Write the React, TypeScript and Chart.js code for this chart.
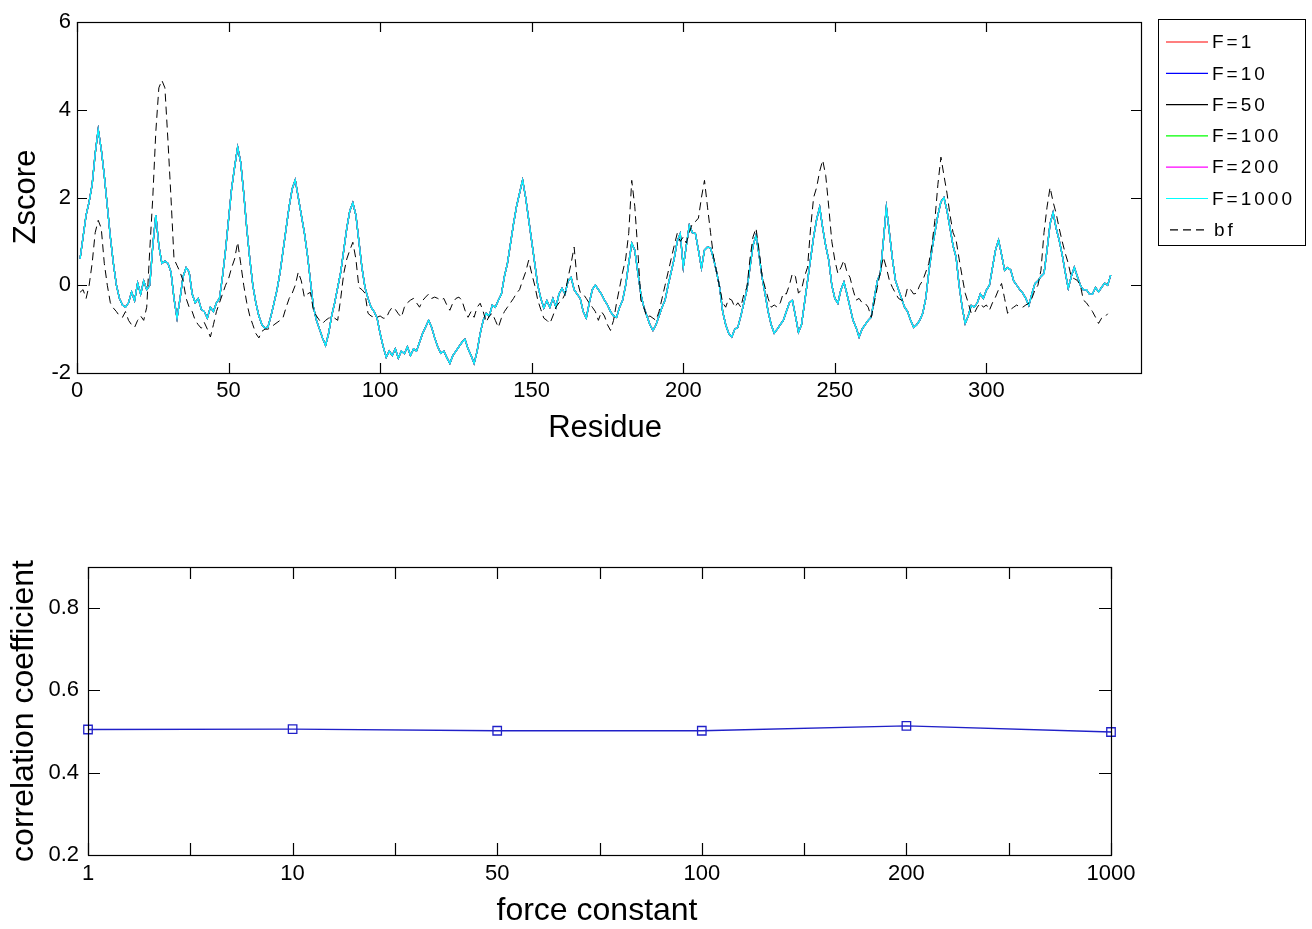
import React, { useEffect, useRef } from 'react';
import { Chart, registerables } from 'chart.js';
Chart.register(...registerables);

// Zscore profile (all force constants overlap almost exactly)
const zscore = [
  0.6, 1.1, 1.6, 1.9, 2.3, 3.0, 3.55, 3.1, 2.5, 1.8,
  1.1, 0.5, 0.0, -0.3, -0.45, -0.5, -0.4, -0.15, -0.35, 0.05,
  -0.2, 0.1, -0.1, 0.0, 0.9, 1.6, 0.9, 0.5, 0.55, 0.5,
  0.3, -0.3, -0.75, -0.3, 0.2, 0.4, 0.3, -0.2, -0.4, -0.3,
  -0.55, -0.6, -0.75, -0.5, -0.6, -0.4, -0.3, 0.2, 0.8, 1.5,
  2.2, 2.7, 3.15, 2.8, 2.1, 1.3, 0.6, 0.0, -0.4, -0.7,
  -0.9, -0.98, -0.95, -0.7, -0.4, -0.1, 0.3, 0.8, 1.3, 1.8,
  2.2, 2.4, 2.0, 1.6, 1.2, 0.7, 0.1, -0.5, -0.8, -1.0,
  -1.2, -1.37, -1.1, -0.7, -0.4, -0.05, 0.3, 0.8, 1.3, 1.7,
  1.88, 1.6, 1.0, 0.4, -0.05, -0.3, -0.5, -0.6, -0.75, -1.1,
  -1.4, -1.64, -1.5, -1.6, -1.45, -1.66, -1.5, -1.56, -1.4, -1.6,
  -1.45, -1.5, -1.3, -1.1, -0.95, -0.8, -0.96, -1.2, -1.4, -1.55,
  -1.5, -1.65, -1.78, -1.6, -1.5, -1.4, -1.3, -1.23, -1.45, -1.6,
  -1.78, -1.5, -1.1, -0.8, -0.64, -0.7, -0.45, -0.5, -0.34, -0.2,
  0.2, 0.5, 0.95, 1.4, 1.8, 2.1, 2.4, 2.0, 1.5, 1.0,
  0.5, 0.0, -0.3, -0.52, -0.35, -0.5, -0.3, -0.5, -0.2, -0.07,
  -0.2, 0.1, 0.18, -0.1, -0.2, -0.3, -0.6, -0.75, -0.4, -0.1,
  0.0, -0.1, -0.2, -0.34, -0.45, -0.6, -0.7, -0.73, -0.5, -0.34,
  0.0, 0.5, 0.96, 0.8, 0.3, -0.2, -0.5, -0.7, -0.9, -1.03,
  -0.9, -0.7, -0.5, -0.34, 0.0, 0.3, 0.6, 1.0, 1.18, 0.41,
  0.9, 1.37, 1.2, 1.18, 0.8, 0.39, 0.8, 0.87, 0.85, 0.6,
  0.3, -0.05, -0.6, -0.9, -1.1, -1.18, -1.0, -0.96, -0.7, -0.4,
  -0.1, 0.4, 0.9, 1.14, 0.7, 0.18, -0.2, -0.6, -0.9, -1.09,
  -1.0, -0.9, -0.8, -0.6, -0.4, -0.34, -0.7, -1.07, -0.9, -0.4,
  0.1, 0.6, 1.1, 1.5, 1.78, 1.3, 0.9, 0.57, 0.0, -0.3,
  -0.41, -0.1, 0.07, -0.2, -0.5, -0.8, -0.96, -1.18, -1.0, -0.9,
  -0.8, -0.73, -0.3, 0.1, 0.27, 1.0, 1.78, 1.2, 0.6, 0.11,
  -0.1, -0.3, -0.5, -0.6, -0.8, -0.96, -0.9, -0.8, -0.64, -0.3,
  0.3, 0.8, 1.2, 1.6, 1.9, 2.0, 1.7, 1.3, 0.9, 0.64,
  0.0, -0.5, -0.87, -0.7, -0.46, -0.5, -0.4, -0.2, -0.3, -0.11,
  0.0, 0.4, 0.8, 1.03, 0.7, 0.34, 0.4, 0.35, 0.1, 0.0,
  -0.1, -0.18, -0.3, -0.46, -0.2, 0.04, 0.1, 0.2, 0.27, 0.8,
  1.4, 1.66, 1.3, 1.03, 0.7, 0.3, -0.07, 0.2, 0.41, 0.2,
  0.0, -0.11, -0.1, -0.2, -0.2, -0.05, -0.15, -0.05, 0.05, 0.0, 0.23,
];

// B-factor profile (dashed)
const bfactor = [
  -0.16, -0.1, -0.3, 0.0, 0.5, 1.2, 1.48, 1.3, 0.5, 0.0,
  -0.4, -0.52, -0.6, -0.7, -0.73, -0.6, -0.8, -0.9, -0.96, -0.8,
  -0.7, -0.8, -0.5, 0.8, 2.0, 3.5, 4.5, 4.67, 4.5, 3.3,
  2.0, 0.6, 0.45, 0.3, 0.1, -0.3, -0.5, -0.6, -0.8, -0.9,
  -0.98, -0.85, -1.0, -1.18, -0.9, -0.6, -0.4, -0.2, 0.0, 0.15,
  0.4, 0.6, 0.98, 0.5, 0.0, -0.4, -0.7, -0.9, -1.1, -1.2,
  -1.05, -1.0, -1.0, -0.96, -0.9, -0.85, -0.8, -0.73, -0.5, -0.3,
  -0.18, 0.0, 0.3, 0.1, -0.27, -0.2, -0.16, -0.57, -0.7, -0.8,
  -0.87, -0.8, -0.75, -0.73, -0.75, -0.8, -0.3, 0.27, 0.6, 0.8,
  0.98, 0.6, -0.05, -0.1, -0.18, -0.64, -0.7, -0.73, -0.73, -0.7,
  -0.75, -0.75, -0.6, -0.5, -0.55, -0.65, -0.73, -0.5, -0.4, -0.34,
  -0.3, -0.4, -0.5, -0.35, -0.27, -0.2, -0.3, -0.27, -0.3, -0.34,
  -0.3, -0.45, -0.57, -0.4, -0.3, -0.27, -0.35, -0.57, -0.73, -0.6,
  -0.73, -0.5, -0.41, -0.6, -0.84, -0.7, -0.64, -0.8, -0.96, -0.75,
  -0.6, -0.5, -0.4, -0.3, -0.18, -0.1, 0.11, 0.3, 0.57, 0.27,
  0.0, -0.34, -0.55, -0.75, -0.8, -0.87, -0.7, -0.5, -0.4, -0.34,
  -0.2, 0.18, 0.5, 0.87, 0.11, -0.16, -0.2, -0.3, -0.41, -0.5,
  -0.6, -0.8, -0.6, -0.7, -0.9, -1.03, -0.8, -0.4, -0.05, 0.3,
  0.6, 1.18, 2.39, 1.8, 0.8, -0.34, -0.5, -0.73, -0.7, -0.75,
  -0.8, -0.6, -0.3, 0.0, 0.3, 0.6, 0.9, 1.18, 1.0, 1.1,
  0.96, 1.2, 1.41, 1.45, 1.53, 2.0, 2.39, 1.78, 1.2, 0.64,
  0.3, -0.05, -0.4, -0.5, -0.3, -0.34, -0.5, -0.4, -0.5, -0.2,
  -0.05, 0.6, 1.1, 1.3, 0.8, 0.2, -0.05, -0.3, -0.5, -0.45,
  -0.5, -0.4, -0.18, -0.2, 0.0, 0.27, 0.2, -0.18, -0.1, 0.2,
  0.41, 1.3, 2.0, 2.23, 2.6, 2.85, 2.5, 1.78, 1.0, 0.57,
  0.27, 0.4, 0.57, 0.3, 0.18, -0.1, -0.34, -0.3, -0.4, -0.41,
  -0.5, -0.73, -0.4, -0.05, 0.3, 0.64, 0.4, 0.11, -0.05, -0.18,
  -0.3, -0.34, -0.34, -0.05, -0.1, -0.2, -0.18, 0.0, 0.11, 0.3,
  0.5, 0.9, 1.48, 2.3, 2.92, 2.5, 2.1, 1.6, 1.2, 1.03,
  0.6, 0.2, -0.18, -0.4, -0.64, -0.64, -0.5, -0.41, -0.5, -0.45,
  -0.57, -0.4, -0.27, -0.1, 0.04, -0.3, -0.64, -0.55, -0.5, -0.45,
  -0.5, -0.5, -0.45, -0.41, -0.3, -0.11, 0.0, 0.34, 1.2, 1.78,
  2.23, 1.9, 1.64, 1.3, 1.0, 0.73, 0.5, 0.18, 0.15, 0.11,
  0.0, -0.34, -0.4, -0.5, -0.6, -0.73, -0.87, -0.75, -0.73, -0.65,
];

const seriesNames = ['F=1', 'F=10', 'F=50', 'F=100', 'F=200', 'F=1000'];
const seriesColors = ['#ff0000', '#0000ff', '#000000', '#00ff00', '#ff00ff', '#00ffff'];
const residueTicks = [0, 50, 100, 150, 200, 250, 300];
const zTicks = [-2, 0, 2, 4, 6];

const forceConstants = ['1', '10', '50', '100', '200', '1000'];
const correlation = [0.505, 0.506, 0.502, 0.502, 0.514, 0.499];
const corrTicks = [0.2, 0.4, 0.6, 0.8];

const FONT = '"Liberation Sans", Arial, sans-serif';

function TopChart() {
  const ref = useRef<HTMLCanvasElement>(null);
  useEffect(() => {
    const residues = zscore.map((_, i) => i + 1);
    const datasets: any[] = seriesNames.map((name, i) => ({
      label: name,
      data: zscore,
      borderColor: seriesColors[i],
      borderWidth: 1.3,
      pointRadius: 0,
      tension: 0,
      order: 6 - i,
    }));
    datasets.push({
      label: 'bf',
      data: bfactor,
      borderColor: '#000000',
      borderWidth: 1,
      borderDash: [8, 5],
      pointRadius: 0,
      tension: 0,
      order: 0,
    });
    const frame = {
      id: 'frameTop',
      afterDraw(chart: any) {
        const { ctx, chartArea: a, scales } = chart;
        const xs = scales.x, ys = scales.y;
        ctx.save();
        ctx.strokeStyle = '#000';
        ctx.lineWidth = 1.2;
        ctx.strokeRect(a.left + 0.5, a.top + 0.5, a.right - a.left, a.bottom - a.top);
        ctx.beginPath();
        const tl = 10;
        residueTicks.forEach((v) => {
          const px = Math.round(xs.getPixelForValue(v)) + 0.5;
          ctx.moveTo(px, a.bottom); ctx.lineTo(px, a.bottom - tl);
          ctx.moveTo(px, a.top); ctx.lineTo(px, a.top + tl);
        });
        zTicks.forEach((v) => {
          const py = Math.round(ys.getPixelForValue(v)) + 0.5;
          ctx.moveTo(a.left, py); ctx.lineTo(a.left + tl, py);
          ctx.moveTo(a.right, py); ctx.lineTo(a.right - tl, py);
        });
        ctx.stroke();
        ctx.fillStyle = '#000';
        ctx.font = `22px ${FONT}`;
        ctx.textBaseline = 'middle';
        ctx.textAlign = 'center';
        residueTicks.forEach((v) => ctx.fillText(String(v), xs.getPixelForValue(v), 391));
        ctx.textAlign = 'right';
        zTicks.forEach((v) => ctx.fillText(String(v), 71, ys.getPixelForValue(v)));
        ctx.font = `31px ${FONT}`;
        ctx.textAlign = 'center';
        ctx.fillText('Residue', 605, 428);
        ctx.save();
        ctx.translate(26, 197);
        ctx.rotate(-Math.PI / 2);
        ctx.fillText('Zscore', 0, 0);
        ctx.restore();
        // legend
        const lx = 1158, ly = 19, lw = 147, lh = 226;
        ctx.fillStyle = '#fff';
        ctx.fillRect(lx, ly, lw, lh);
        ctx.strokeStyle = '#000';
        ctx.lineWidth = 1;
        ctx.strokeRect(lx + 0.5, ly + 0.5, lw, lh);
        const labels = [...seriesNames, 'bf'];
        const colors = [...seriesColors, '#000'];
        ctx.font = `19px ${FONT}`;
        ctx.textAlign = 'left';
        (ctx as any).letterSpacing = '3px';
        labels.forEach((lab, i) => {
          const y = 42 + i * 31.3;
          ctx.beginPath();
          ctx.strokeStyle = colors[i];
          ctx.lineWidth = 1.2;
          if (lab === 'bf') {
            ctx.setLineDash([8, 5]);
            ctx.moveTo(1170, y); ctx.lineTo(1207, y);
          } else {
            ctx.setLineDash([]);
            ctx.moveTo(1166, y); ctx.lineTo(1208, y);
          }
          ctx.stroke();
          ctx.setLineDash([]);
          ctx.fillStyle = '#000';
          ctx.fillText(lab, lab === 'bf' ? 1214 : 1212, y + 1);
        });
        (ctx as any).letterSpacing = '0px';
        ctx.restore();
      },
    };
    const chart = new Chart(ref.current!, {
      type: 'line',
      data: { labels: residues, datasets },
      options: {
        animation: false,
        responsive: false,
        events: [],
        layout: { padding: { left: 77, right: 171, top: 22, bottom: 87 } },
        plugins: { legend: { display: false }, tooltip: { enabled: false } },
        scales: {
          x: { type: 'linear', min: 0, max: 351, display: false },
          y: { type: 'linear', min: -2, max: 6, display: false },
        },
      },
      plugins: [frame],
    });
    return () => chart.destroy();
  }, []);
  return <canvas ref={ref} width={1312} height={460} style={{ position: 'absolute', left: 0, top: 0 }} />;
}

function BottomChart() {
  const ref = useRef<HTMLCanvasElement>(null);
  useEffect(() => {
    const OFF = 460;
    const frame = {
      id: 'frameBottom',
      afterDraw(chart: any) {
        const { ctx, chartArea: a, scales } = chart;
        const xs = scales.x, ys = scales.y;
        ctx.save();
        ctx.strokeStyle = '#000';
        ctx.lineWidth = 1.2;
        ctx.strokeRect(a.left + 0.5, a.top + 0.5, a.right - a.left, a.bottom - a.top);
        ctx.beginPath();
        const tl = 12;
        for (let i = 0; i <= forceConstants.length - 1; i += 0.5) {
          const px = Math.round(xs.getPixelForValue(i)) + 0.5;
          ctx.moveTo(px, a.bottom); ctx.lineTo(px, a.bottom - tl);
          ctx.moveTo(px, a.top); ctx.lineTo(px, a.top + tl);
        }
        corrTicks.forEach((v) => {
          const py = Math.round(ys.getPixelForValue(v)) + 0.5;
          ctx.moveTo(a.left, py); ctx.lineTo(a.left + tl, py);
          ctx.moveTo(a.right, py); ctx.lineTo(a.right - tl, py);
        });
        ctx.stroke();
        ctx.fillStyle = '#000';
        ctx.font = `22px ${FONT}`;
        ctx.textBaseline = 'middle';
        ctx.textAlign = 'center';
        forceConstants.forEach((lab, i) => ctx.fillText(lab, xs.getPixelForValue(i), 874 - OFF));
        ctx.textAlign = 'right';
        corrTicks.forEach((v) => ctx.fillText(v.toFixed(1), 79, ys.getPixelForValue(v)));
        ctx.font = `32px ${FONT}`;
        ctx.textAlign = 'center';
        ctx.fillText('force constant', 597, 911 - OFF);
        ctx.save();
        ctx.translate(24, 711 - OFF);
        ctx.rotate(-Math.PI / 2);
        ctx.fillText('correlation coefficient', 0, 0);
        ctx.restore();
        ctx.restore();
      },
    };
    const chart = new Chart(ref.current!, {
      type: 'line',
      data: {
        labels: forceConstants,
        datasets: [{
          label: 'correlation',
          data: correlation,
          borderColor: '#2020c8',
          borderWidth: 1.3,
          pointStyle: 'rect',
          pointRadius: 6,
          pointBorderColor: '#2020c8',
          pointBackgroundColor: 'rgba(0,0,0,0)',
          pointBorderWidth: 1.3,
          tension: 0,
          clip: false as any,
        }],
      },
      options: {
        animation: false,
        responsive: false,
        events: [],
        layout: { padding: { left: 88, right: 201, top: 107, bottom: 74 } },
        plugins: { legend: { display: false }, tooltip: { enabled: false } },
        scales: {
          x: { type: 'category', offset: false, display: false },
          y: { type: 'linear', min: 0.2, max: 0.9, display: false },
        },
      },
      plugins: [frame],
    });
    return () => chart.destroy();
  }, []);
  return <canvas ref={ref} width={1312} height={469} style={{ position: 'absolute', left: 0, top: 460 }} />;
}

export default function App() {
  return (
    <div style={{ position: 'absolute', left: 0, top: 0, width: 1312, height: 929, background: '#fff' }}>
      <TopChart />
      <BottomChart />
    </div>
  );
}
